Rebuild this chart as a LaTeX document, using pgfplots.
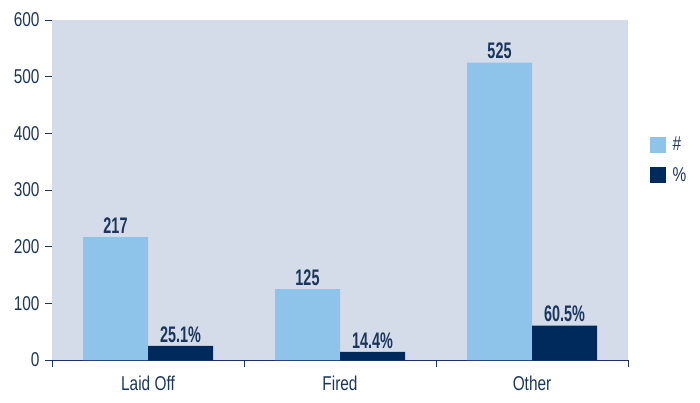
\documentclass[border=0pt]{standalone}
\usepackage{pgfplots}
\pgfplotsset{compat=1.18}
\usepackage{fontspec}
\setmainfont{Liberation Sans}[FakeStretch=0.77]
\newfontfamily\barfont{Liberation Sans}[FakeStretch=0.64]
\definecolor{bgcol}{HTML}{D5DCE9}
\definecolor{lightbar}{HTML}{8FC4EA}
\definecolor{darkbar}{HTML}{002A5C}
\definecolor{navytext}{HTML}{1B365D}
\newcommand{\bigf}{\fontsize{20}{24}\selectfont}
\newcommand{\barf}{\barfont\bfseries\fontsize{22.5}{26}\selectfont}
\begin{document}
\begin{tikzpicture}[font=\bigf]
\useasboundingbox (-52pt,-42pt) rectangle (648pt,360pt);
\begin{axis}[
  /pgf/number format/assume math mode=true,
  font=\bigf,
  scale only axis,
  width=576pt, height=340pt,
  at={(0pt,0pt)}, anchor=south west,
  axis background/.style={fill=bgcol},
  xmin=-0.5, xmax=2.5,
  ymin=0, ymax=600,
  ytick={0,100,...,600},
  xtick={0,1,2},
  xticklabels={Laid Off,Fired,Other},
  axis lines*=left,
  y axis line style={draw=none},
  x axis line style={draw=navytext, line width=0.8pt},
  tick align=outside,
  major tick length=7pt,
  ytick style={draw=navytext, line width=0.9pt},
  xtick style={draw=none},
  extra x ticks={-0.5,0.5,1.5,2.5},
  extra x tick labels={},
  extra x tick style={xtick style={draw=navytext, line width=0.8pt}, major tick length=7pt},
  every tick label/.append style={font=\bigf},
  yticklabel style={text=navytext, xshift=-2pt},
  xticklabel style={text=navytext, yshift=-5pt},
  ybar,
  bar width=65pt,
  legend style={draw=none, fill=none, at={(1.032,0.588)}, anchor=west,
    text=navytext, row sep=11pt, legend cell align=left, font=\bigf},
  legend image code/.code={\fill[#1] (0pt,-8pt) rectangle (16pt,8pt); \path (21pt,0pt);},
  every node near coord/.append style={text=navytext, font=\barf, yshift=0pt},
]
\addplot[fill=lightbar, draw=none, bar shift=-32.5pt, nodes near coords] coordinates {(0,217) (1,125) (2,525)};
\addlegendentry{\#}
\addplot[fill=darkbar, draw=none, bar shift=32.5pt,
  nodes near coords={\pgfmathprintnumber[fixed,precision=1]{\pgfplotspointmeta}\%}] coordinates {(0,25.1) (1,14.4) (2,60.5)};
\addlegendentry{\%}
\end{axis}
\end{tikzpicture}
\end{document}
